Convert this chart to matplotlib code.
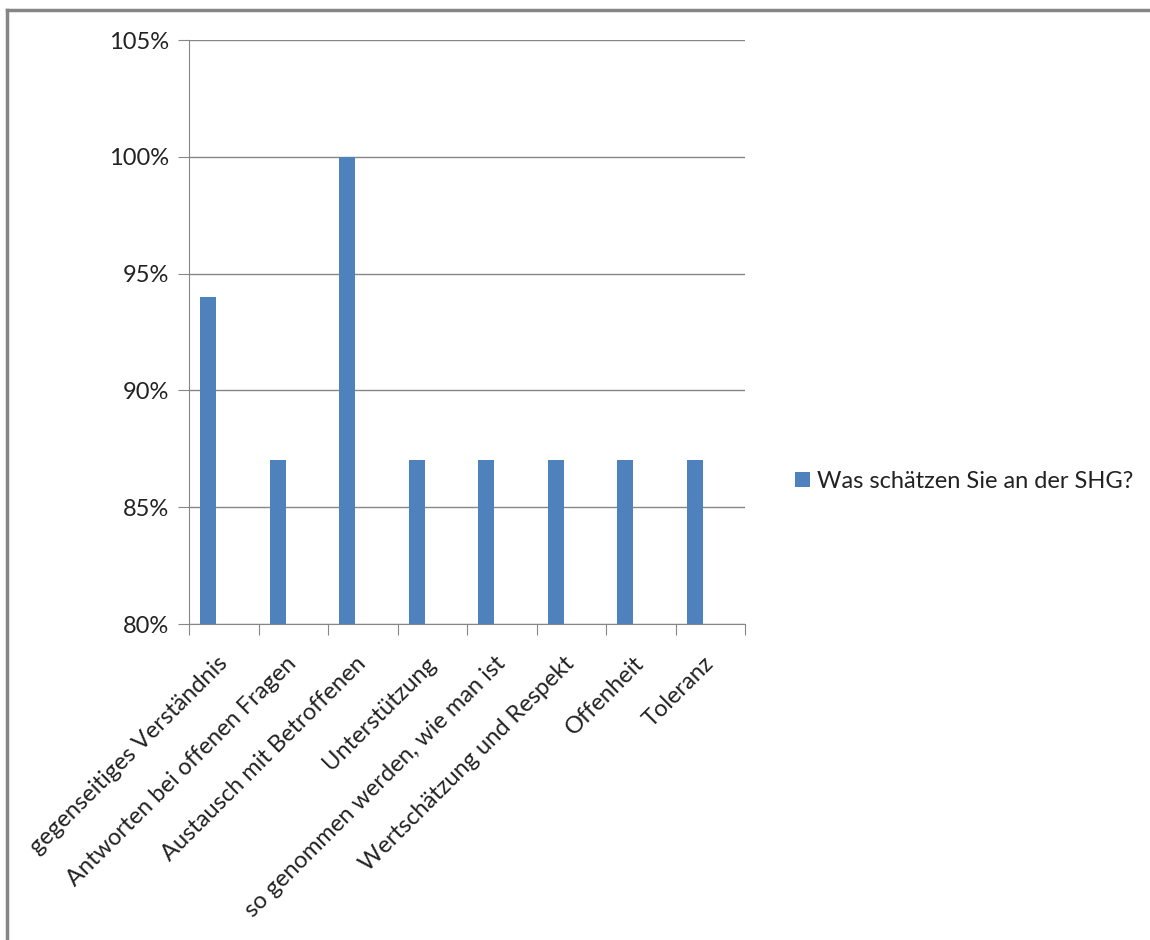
import matplotlib.pyplot as plt
from matplotlib.lines import Line2D
from matplotlib.ticker import FixedLocator, FuncFormatter
from matplotlib.transforms import ScaledTranslation

categories = ['gegenseitiges Verständnis', 'Antworten bei offenen Fragen',
              'Austausch mit Betroffenen', 'Unterstützung',
              'so genommen werden, wie man ist', 'Wertschätzung und Respekt',
              'Offenheit', 'Toleranz']
values = [94, 87, 100, 87, 87, 87, 87, 87]
series_name = 'Was schätzen Sie an der SHG?'
y_ticks = [80, 85, 90, 95, 100, 105]

plt.rcParams['font.family'] = ['Lato', 'DejaVu Sans']
grey = '#868686'
bar_color = '#4F81BD'
text_color = '#222222'
fs = 17

fig = plt.figure(figsize=(11.5, 9.4), dpi=100)
ax = fig.add_axes([189 / 1150, 1 - 624 / 940, (745 - 189) / 1150, (624 - 40) / 940])

x = list(range(len(categories)))
# Excel leaves the single series left of the category centre
ax.bar([i - 0.22 for i in x], values, width=0.23, color=bar_color,
       label=series_name, zorder=3)

ax.set_ylim(80, 105)
ax.set_xlim(-0.5, len(categories) - 0.5)
ax.set_yticks(y_ticks)
ax.yaxis.set_major_formatter(FuncFormatter(lambda v, p: f'{v:.0f}%'))
ax.grid(axis='y', color=grey, linewidth=1, zorder=0)

# category ticks sit between categories, labels at the centres
ax.xaxis.set_major_locator(FixedLocator([i - 0.5 for i in range(len(categories) + 1)]))
ax.xaxis.set_minor_locator(FixedLocator(x))
ax.set_xticklabels([])
labels = ax.set_xticklabels(categories, minor=True, rotation=45, ha='right', va='center',
                            rotation_mode='anchor', fontsize=fs, color=text_color)
shift = ScaledTranslation(14 / 100, 0, fig.dpi_scale_trans)
for lab in labels:
    lab.set_transform(lab.get_transform() + shift)
ax.tick_params(axis='x', which='major', length=8, color=grey, direction='out')
ax.tick_params(axis='x', which='minor', length=0, pad=26)
ax.tick_params(axis='y', length=8, color=grey, labelsize=fs, labelcolor=text_color, pad=6)

for s in ['top', 'right']:
    ax.spines[s].set_visible(False)
for s in ['left', 'bottom']:
    ax.spines[s].set_color(grey)

fig.legend(loc='center left', bbox_to_anchor=(786 / 1150, 1 - 481 / 940),
           frameon=False, fontsize=fs, handlelength=0.6, handleheight=0.6,
           handletextpad=0.3, borderaxespad=0, labelcolor=text_color)

# outer chart border (only top and left are visible in the crop)
fig.add_artist(Line2D([7 / 1150, 1], [1 - 10 / 940] * 2, transform=fig.transFigure,
                      color=grey, linewidth=2.5))
fig.add_artist(Line2D([7 / 1150] * 2, [0, 1 - 10 / 940], transform=fig.transFigure,
                      color=grey, linewidth=2.5))

fig.savefig('out.png', dpi=100, facecolor='white')
